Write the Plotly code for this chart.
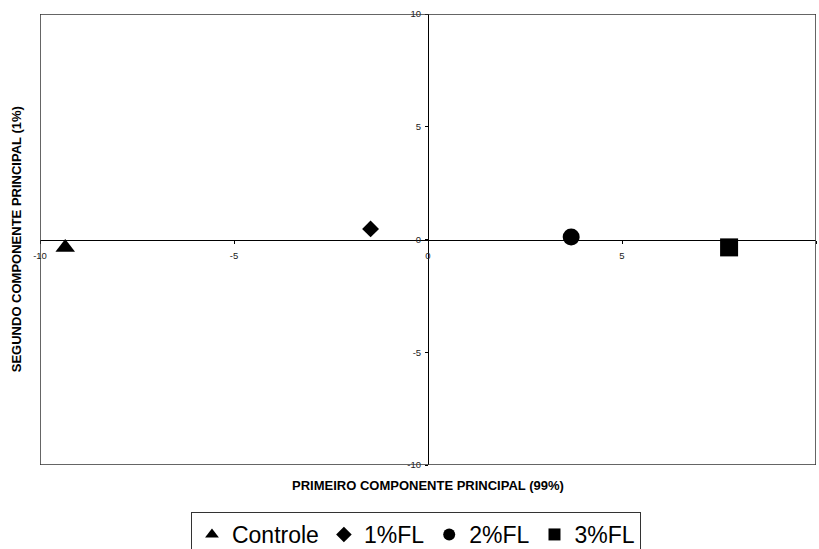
import plotly.graph_objects as go

series_names = ["Controle", "1%FL", "2%FL", "3%FL"]
pc1_values = [-9.35, -1.48, 3.69, 7.76]
pc2_values = [-0.35, 0.47, 0.11, -0.35]
symbols = ["triangle-up", "diamond", "circle", "square"]
sizes = [17, 13, 17, 18]

tick_vals = [-10, -5, 0, 5, 10]
tick_text = ["-10", "-5", "0", "5", "10"]

FONT = "Arial, Liberation Sans, sans-serif"

fig = go.Figure()
for name, x, y, sym, sz in zip(series_names, pc1_values, pc2_values, symbols, sizes):
    fig.add_trace(go.Scatter(
        x=[x], y=[y], mode="markers", name=name,
        marker=dict(symbol=sym, size=sz, color="black", line=dict(width=0)),
    ))

fig.add_shape(type="rect", xref="x", yref="y", x0=-10, x1=10, y0=-10, y1=10,
              line=dict(color="#333333", width=1.5), layer="above")

axis_common = dict(range=[-10, 10], tickvals=tick_vals, ticktext=tick_text,
                   showgrid=False, zeroline=False, showline=True, linecolor="black",
                   linewidth=1, ticks="outside", ticklen=3, tickcolor="black",
                   anchor="free", position=0.5, automargin=False,
                   tickfont=dict(size=9.5, color="#222"))

fig.update_layout(
    width=819, height=549,
    margin=dict(l=40, r=3, t=14, b=84),
    paper_bgcolor="white", plot_bgcolor="white",
    font=dict(family=FONT, color="black"),
    xaxis=dict(axis_common, ticklabelstandoff=4),
    yaxis=dict(axis_common, ticklabelstandoff=2),
    legend=dict(orientation="h", x=0.4845, xanchor="center",
                yref="container", y=0.0674, yanchor="top",
                bordercolor="#333", borderwidth=1,
                font=dict(size=23, family=FONT), itemwidth=30,
                itemsizing="constant", bgcolor="white"),
    annotations=[
        dict(text="<b>PRIMEIRO COMPONENTE PRINCIPAL (99%)</b>", xref="paper",
             yref="paper", x=0.5, y=-0.046, xanchor="center", yanchor="middle",
             showarrow=False, font=dict(size=13, family=FONT)),
        dict(text="<b>SEGUNDO COMPONENTE PRINCIPAL (1%)</b>", xref="paper",
             yref="paper", x=-0.03, y=0.5, xanchor="center", yanchor="middle",
             textangle=-90, showarrow=False, font=dict(size=13, family=FONT)),
    ],
)

fig.write_html(
    "out.html",
    config={"displayModeBar": False},
    post_script="document.body.style.margin='0';document.body.style.overflow='hidden';",
)
